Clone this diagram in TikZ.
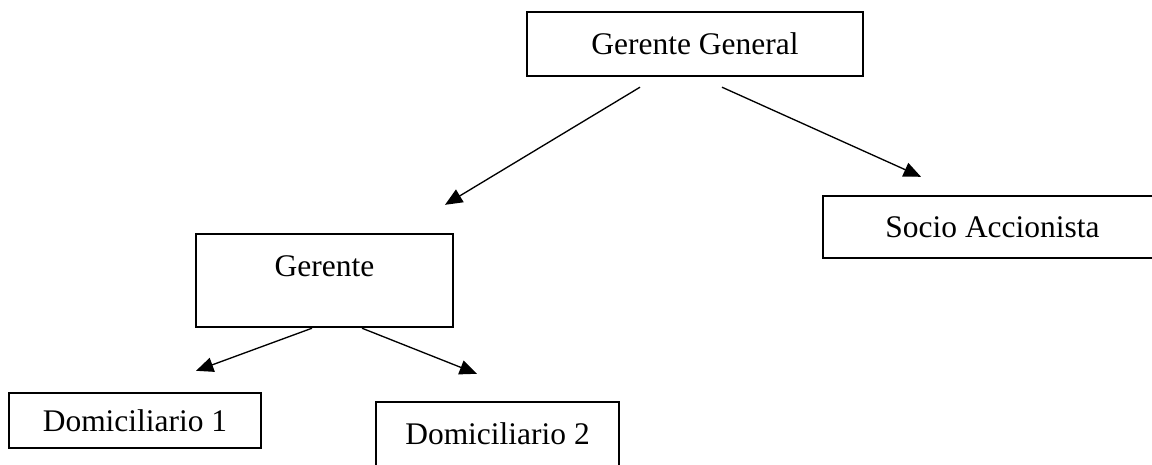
\documentclass[tikz,border=0pt]{standalone}
\usepackage{fontspec}
\setmainfont{Liberation Serif}
\usetikzlibrary{
	arrows.meta,
	calc
}
\tikzset{every path/.append style={line width=1pt}}
\tikzset{every path/.append style={>={Triangle[length=13pt,width=11pt]}}}
\tikzset{
	box/.style={draw,rectangle,line width=1.8pt,inner sep=0pt,font=\fontsize{23.6pt}{28pt}\selectfont}
}
\newcommand{\tikzBox}[4][]{\node (#3) at #2 [box,#1]{#4};}

\begin{document}
\begin{tikzpicture}[x=0.75pt,y=-0.75pt]
	\useasboundingbox (0,0) rectangle (1152,464);
	
	\tikzBox[minimum width=252pt,minimum height=48pt]{(695,44)}{gg}{Gerente General};
	\tikzBox[minimum width=254.25pt,minimum height=46.5pt]{(992.5,227)}{sa}{Socio Accionista};
	\tikzBox[minimum width=192.75pt,text height=31.5pt,text depth=38.25pt]{(324.5,280.5)}{ge}{Gerente};
	\tikzBox[minimum width=189pt,minimum height=41.25pt]{(135,420.5)}{d1}{Domiciliario 1};
	\tikzBox[minimum width=182.25pt,minimum height=48pt]{(497.5,434)}{d2}{Domiciliario 2};
	
	% free ends of the arrows
	\coordinate (gg-l) at ($(gg.south)+(-55,10)$);
	\coordinate (gg-r) at ($(gg.south)+(27,10)$);
	\coordinate (ge-l) at ($(ge.south)+(-12.5,0)$);
	\coordinate (ge-r) at ($(ge.south)+(37.5,0)$);
	\coordinate (ge-in) at ($(ge.north)+(120.5,-28)$);
	\coordinate (sa-in) at ($(sa.north)+(-71.5,-18)$);
	\coordinate (d1-in) at ($(d1.north)+(61,-21)$);
	\coordinate (d2-in) at ($(d2.north)+(-20.5,-27)$);
	
	\draw[->] (gg-l) -- (ge-in);
	\draw[->] (gg-r) -- (sa-in);
	\draw[->] (ge-l) -- (d1-in);
	\draw[->] (ge-r) -- (d2-in);
\end{tikzpicture}
\end{document}
